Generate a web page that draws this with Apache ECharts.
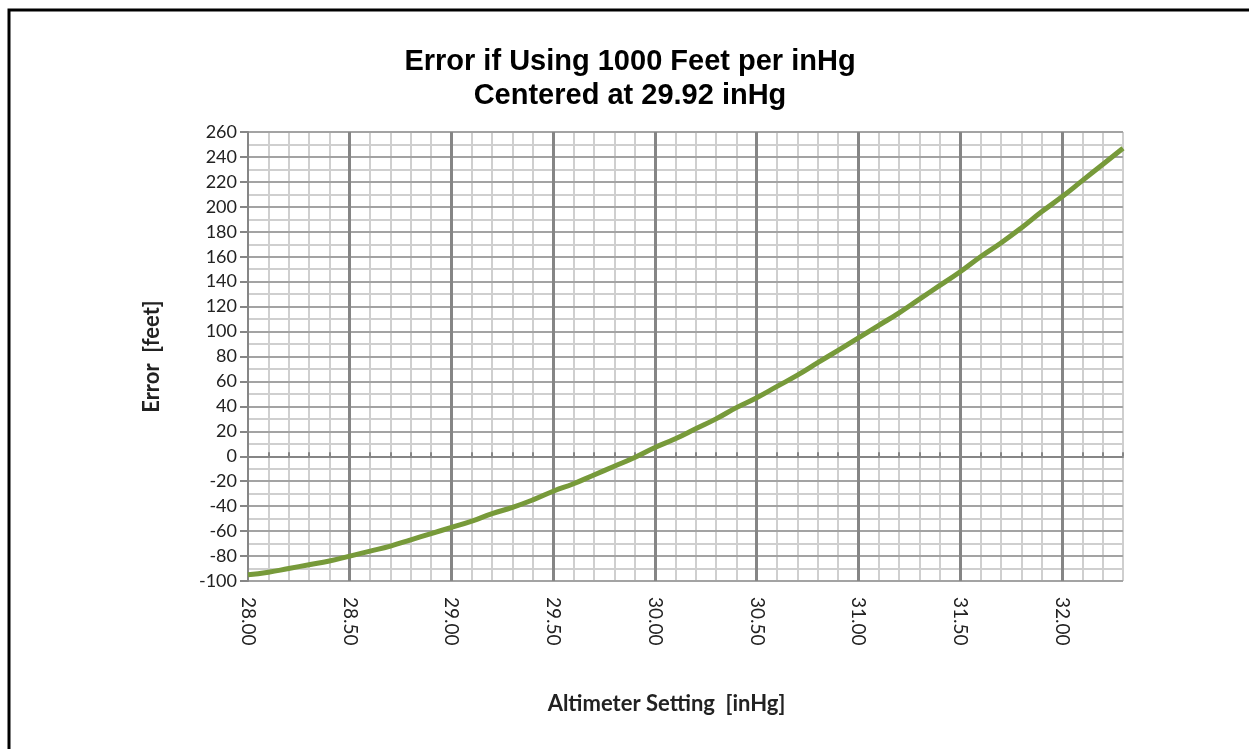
<!DOCTYPE html>
<html>
<head>
<meta charset="utf-8">
<title>Error if Using 1000 Feet per inHg</title>
<script src="https://cdn.jsdelivr.net/npm/echarts@6/dist/echarts.min.js"></script>
<style>
  html, body { margin: 0; padding: 0; background: #fff; }
  #chart { width: 1249px; height: 749px; }
</style>
</head>
<body>
<div id="chart"></div>
<script>
// --- data -------------------------------------------------------------------
const TITLE = "Error if Using 1000 Feet per inHg\nCentered at 29.92 inHg";
const X_NAME = "Altimeter Setting  [inHg]";
const Y_NAME = "Error  [feet]";

// altimeter setting [inHg]
const settings = [
  28.0, 28.1, 28.2, 28.3, 28.4, 28.5, 28.6, 28.7, 28.8, 28.9,
  29.0, 29.1, 29.2, 29.3, 29.4, 29.5, 29.6, 29.7, 29.8, 29.9,
  30.0, 30.1, 30.2, 30.3, 30.4, 30.5, 30.6, 30.7, 30.8, 30.9,
  31.0, 31.1, 31.2, 31.3, 31.4, 31.5, 31.6, 31.7, 31.8, 31.9,
  32.0, 32.1, 32.2, 32.3,
];
// error [feet]
const errors = [
  -95, -93, -90, -87, -84, -80, -76, -72, -67, -62,
  -57, -52, -46, -41, -35, -28, -22, -15, -8, -1,
  7, 14, 22, 30, 39, 47, 56, 65, 75, 85,
  95, 105, 115, 126, 137, 148, 160, 171, 183, 196,
  208, 221, 234, 247,
];

const X_MIN = 28, X_MAX = 32.3;
const Y_MIN = -100, Y_MAX = 260;

// --- look --------------------------------------------------------------------
const FONT = "Lato, 'Open Sans', sans-serif";
const MINOR = "#cfcfcf";
const MAJOR_H = "#a3a3a3";
const MAJOR_V = "#858585";
const AXIS = "#868686";
const CURVE = "#779a3a";

const chart = echarts.init(document.getElementById("chart"), null, { renderer: "canvas" });

const hidden = { show: false };
const xBase = { type: "value", min: X_MIN, max: X_MAX, gridIndex: 0 };
const yBase = { type: "value", min: Y_MIN, max: Y_MAX, gridIndex: 0 };

chart.setOption({
  animation: false,
  backgroundColor: "#fff",
  title: {
    text: TITLE,
    left: 625,
    top: 40,
    textAlign: "center",
    textStyle: { fontFamily: "'Liberation Sans', Arial, sans-serif", fontSize: 29, fontWeight: "bold", lineHeight: 34, color: "#000" },
  },
  grid: { left: 248, right: 126, top: 132, bottom: 168, containLabel: false },
  xAxis: [
    // minor vertical lines every 0.1
    { ...xBase, interval: 0.1, z: 2, axisLine: hidden, axisTick: hidden, axisLabel: hidden,
      splitLine: { show: true, lineStyle: { color: MINOR, width: 2 } } },
    // major vertical lines + labels every 0.5
    { ...xBase, interval: 0.5, position: "bottom", z: 4,
      axisLine: { show: false, onZero: false }, axisTick: hidden,
      axisLabel: { show: true, rotate: -90, margin: 16, fontFamily: FONT, fontSize: 19, color: "#222",
        showMaxLabel: false, formatter: (v) => v.toFixed(2) },
      splitLine: { show: true, showMinLine: false, showMaxLine: false, lineStyle: { color: MAJOR_V, width: 3 } },
      name: X_NAME, nameLocation: "middle", nameGap: 112,
      nameTextStyle: { fontFamily: FONT, fontSize: 22, fontWeight: "bold", color: "#222", padding: [0, 38, 0, 0] } },
    // axis line crossing at zero, with small ticks
    { ...xBase, interval: 0.1, z: 5,
      axisLine: { show: true, onZero: true, lineStyle: { color: AXIS, width: 2 } },
      axisTick: { show: true, length: 4, lineStyle: { color: AXIS, width: 2 } },
      axisLabel: hidden, splitLine: hidden },
  ],
  yAxis: [
    // minor horizontal lines every 10
    { ...yBase, interval: 10, z: 1, axisLine: { show: false, onZero: false }, axisTick: hidden, axisLabel: hidden,
      splitLine: { show: true, lineStyle: { color: MINOR, width: 2 } } },
    // major horizontal lines + labels every 20
    { ...yBase, interval: 20, position: "left", z: 3,
      axisLine: { show: true, onZero: false, lineStyle: { color: AXIS, width: 2 } },
      axisTick: { show: true, length: 8, lineStyle: { color: AXIS, width: 2 } },
      axisLabel: { show: true, margin: 11, fontFamily: FONT, fontSize: 18, color: "#222" },
      splitLine: { show: true, lineStyle: { color: MAJOR_H, width: 2 } },
      name: Y_NAME, nameLocation: "middle", nameGap: 85, nameRotate: 90,
      nameTextStyle: { fontFamily: FONT, fontSize: 22, fontWeight: "bold", color: "#222" } },
  ],
  graphic: [
    { type: "rect", silent: true, z: 100,
      shape: { x: 9, y: 10, width: 1400, height: 900 },
      style: { fill: null, stroke: "#000", lineWidth: 3 } },
  ],
  series: [
    {
      type: "line",
      xAxisIndex: 0,
      yAxisIndex: 0,
      z: 10,
      smooth: true,
      showSymbol: false,
      data: settings.map((x, i) => [x, errors[i]]),
      lineStyle: { color: CURVE, width: 5 },
    },
  ],
});
</script>
</body>
</html>
